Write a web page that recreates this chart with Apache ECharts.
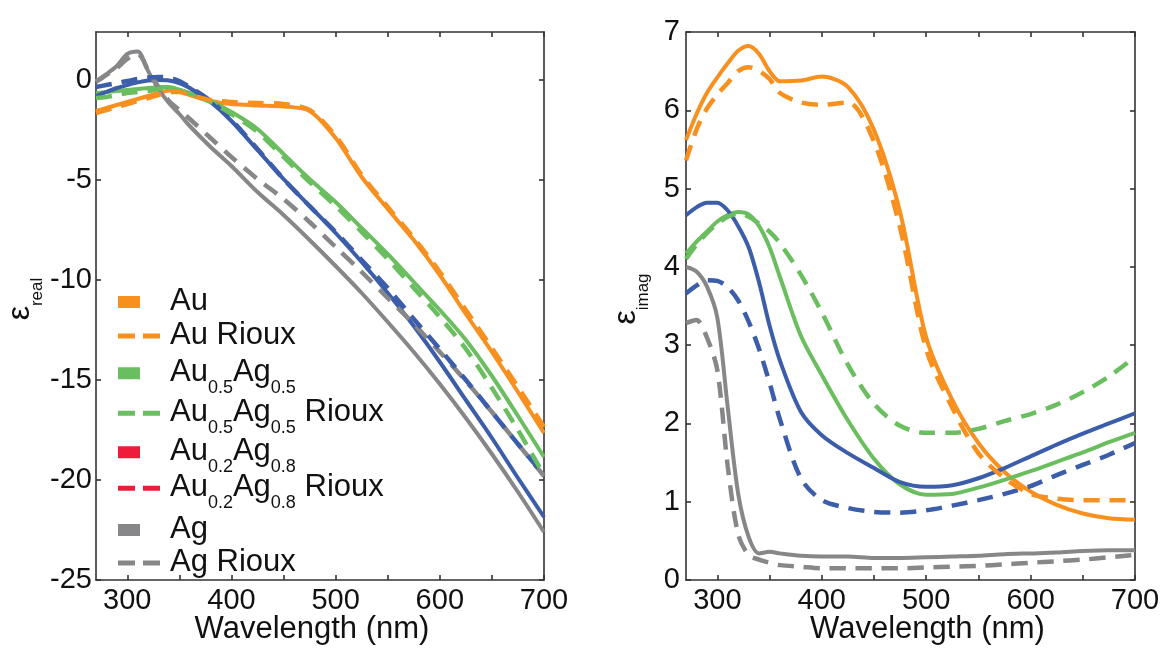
<!DOCTYPE html>
<html>
<head>
<meta charset="utf-8">
<script src="https://cdn.jsdelivr.net/npm/echarts@6/dist/echarts.min.js"></script>
<style>
  html, body { margin: 0; padding: 0; background: #fff; }
  #chart { width: 1164px; height: 650px; }
</style>
</head>
<body>
<div id="chart"></div>
<script>
// wavelength grid (nm), shared by every curve
var wl = [270, 280, 290, 300, 310, 320, 330, 340, 350, 360, 380, 400, 425, 450, 475, 500, 525, 550, 575, 600, 625, 650, 675, 700];

// left panel: eps real
var auReal        = [-1.55, -1.4, -1.25, -1.1, -0.95, -0.8, -0.65, -0.52, -0.55, -0.75, -1.05, -1.2, -1.27, -1.32, -1.55, -2.9, -4.85, -6.45, -8.0, -9.75, -11.7, -13.6, -15.6, -17.65];
var auRiouxReal   = [-1.65, -1.5, -1.35, -1.2, -1.05, -0.9, -0.75, -0.6, -0.6, -0.75, -1.0, -1.1, -1.15, -1.2, -1.5, -2.8, -4.75, -6.35, -7.9, -9.6, -11.5, -13.4, -15.35, -17.35];
var au5Real       = [-0.65, -0.6, -0.55, -0.5, -0.45, -0.4, -0.35, -0.35, -0.5, -0.65, -1.05, -1.6, -2.45, -3.7, -4.95, -6.1, -7.4, -8.7, -10.1, -11.5, -13.0, -14.8, -16.8, -18.85];
var au5RiouxReal  = [-0.9, -0.85, -0.75, -0.65, -0.6, -0.55, -0.45, -0.4, -0.5, -0.7, -1.1, -1.7, -2.6, -3.85, -5.1, -6.3, -7.6, -8.95, -10.4, -11.85, -13.45, -15.4, -17.5, -19.75];
var au2Real       = [-0.8, -0.6, -0.4, -0.25, -0.12, -0.03, 0.0, -0.02, -0.15, -0.4, -1.1, -2.05, -3.5, -4.95, -6.3, -7.65, -9.1, -10.65, -12.3, -14.1, -16.0, -17.9, -19.9, -21.85];
var au2RiouxReal  = [-0.35, -0.25, -0.15, -0.05, 0.05, 0.12, 0.15, 0.12, -0.05, -0.35, -1.05, -2.0, -3.45, -4.95, -6.3, -7.6, -9.0, -10.4, -11.95, -13.45, -15.0, -16.6, -18.2, -19.75];
var agReal        = [-0.05, 0.3, 0.7, 1.3, 1.42, 0.45, -0.45, -1.15, -1.7, -2.3, -3.35, -4.3, -5.6, -6.75, -8.0, -9.3, -10.65, -12.1, -13.6, -15.2, -16.9, -18.7, -20.6, -22.6];
var agRiouxReal   = [-0.1, 0.25, 0.6, 1.05, 1.3, 0.5, -0.35, -1.05, -1.5, -1.95, -2.9, -3.85, -4.95, -5.95, -7.1, -8.35, -9.6, -10.9, -12.2, -13.6, -15.05, -16.6, -18.2, -19.8];

// right panel: eps imag
var auImag        = [5.62, 5.95, 6.22, 6.42, 6.6, 6.76, 6.82, 6.72, 6.5, 6.37, 6.38, 6.43, 6.3, 5.75, 4.7, 3.1, 2.3, 1.75, 1.38, 1.13, 0.96, 0.85, 0.79, 0.77];
var auRiouxImag   = [5.36, 5.75, 6.02, 6.2, 6.35, 6.5, 6.55, 6.5, 6.4, 6.22, 6.1, 6.07, 6.1, 5.6, 4.5, 2.95, 2.2, 1.62, 1.3, 1.1, 1.04, 1.02, 1.02, 1.02];
var au5Imag       = [4.17, 4.32, 4.45, 4.58, 4.66, 4.7, 4.67, 4.52, 4.25, 3.87, 3.12, 2.62, 2.04, 1.55, 1.22, 1.09, 1.1, 1.18, 1.28, 1.39, 1.51, 1.63, 1.76, 1.88];
var au5RiouxImag  = [4.1, 4.28, 4.43, 4.55, 4.64, 4.68, 4.64, 4.55, 4.45, 4.3, 3.9, 3.42, 2.75, 2.25, 1.97, 1.88, 1.88, 1.93, 2.03, 2.12, 2.24, 2.4, 2.6, 2.85];
var au2Imag       = [4.66, 4.76, 4.82, 4.82, 4.72, 4.52, 4.25, 3.8, 3.25, 2.8, 2.15, 1.85, 1.62, 1.43, 1.25, 1.19, 1.21, 1.3, 1.43, 1.58, 1.73, 1.87, 2.0, 2.13];
var au2RiouxImag  = [3.66, 3.76, 3.83, 3.82, 3.74, 3.57, 3.3, 2.95, 2.52, 2.05, 1.3, 1.02, 0.92, 0.87, 0.86, 0.89, 0.95, 1.02, 1.1, 1.2, 1.34, 1.47, 1.6, 1.75];
var agImag        = [4.0, 3.94, 3.75, 3.35, 2.2, 1.1, 0.55, 0.34, 0.36, 0.34, 0.31, 0.3, 0.3, 0.28, 0.28, 0.29, 0.3, 0.31, 0.33, 0.34, 0.35, 0.37, 0.38, 0.38];
var agRiouxImag   = [3.28, 3.32, 3.1, 2.68, 1.45, 0.58, 0.32, 0.26, 0.22, 0.19, 0.17, 0.15, 0.15, 0.15, 0.15, 0.16, 0.17, 0.18, 0.2, 0.22, 0.24, 0.26, 0.29, 0.32];

// tick labels
var xTicks = [300, 350, 400, 450, 500, 550, 600, 650, 700];
var xLabels = [300, 400, 500, 600, 700];

var names = ['Au', 'Au Rioux', 'Au0.5Ag0.5', 'Au0.5Ag0.5 Rioux', 'Au0.2Ag0.8', 'Au0.2Ag0.8 Rioux', 'Ag', 'Ag Rioux'];

var ORANGE = '#F7901E', GREEN = '#6BBE5F', BLUE = '#3B5DAA', GRAY = '#87878A', RED = '#EC1C3A';
var FONT = 'Liberation Sans';

var myChart = echarts.init(document.getElementById('chart'));

function pairs(vals) {
    return wl.map(function (x, i) { return [x, vals[i]]; });
}

function line(name, vals, color, dashed, panel) {
    return {
        name: name,
        type: 'line',
        xAxisIndex: panel * 2,
        yAxisIndex: panel * 2,
        data: pairs(vals),
        showSymbol: false,
        symbol: 'none',
        smooth: 0.3,
        color: color,
        lineStyle: { color: color, width: dashed ? 4.5 : 4, type: dashed ? [16, 10] : 'solid' },
        z: dashed ? 3 : 2
    };
}

// subscripts like Au0.5 -> {m|Au}{s|0.5}
function richName(name) {
    var parts = name.split(/(0\.\d)/);
    return parts.map(function (p) {
        if (p === '') return '';
        return /^0\.\d$/.test(p) ? '{s|' + p + '}' : '{m|' + p + '}';
    }).join('');
}

var axisLineStyle = { color: '#333', width: 1.6 };

function xAxes(grid) {
    return [
        {
            type: 'value', gridIndex: grid, min: 270, max: 700, position: 'bottom',
            axisLine: { show: true, onZero: false, lineStyle: axisLineStyle },
            axisTick: { show: true, inside: true, length: 5, customValues: xTicks, lineStyle: axisLineStyle },
            axisLabel: { customValues: xLabels, fontSize: 29, color: '#111', fontFamily: FONT, margin: 6 },
            splitLine: { show: false },
            name: 'Wavelength (nm)', nameLocation: 'middle', nameGap: 34, nameMoveOverlap: false,
            nameTextStyle: { fontSize: 31, color: '#111', fontFamily: FONT,
                padding: grid === 0 ? [0, 16, 0, 0] : [0, 0, 0, 34] }
        },
        {
            type: 'value', gridIndex: grid, min: 270, max: 700, position: 'top',
            axisLine: { show: true, onZero: false, lineStyle: axisLineStyle },
            axisTick: { show: true, inside: true, length: 5, customValues: xTicks, lineStyle: axisLineStyle },
            axisLabel: { show: false },
            splitLine: { show: false }
        }
    ];
}

function yAxes(grid, min, max, step, sub, gap) {
    var yTicks = [];
    for (var v = min; v <= max + 1e-9; v += step) yTicks.push(v);
    var nameStyle = {
        color: '#111', fontFamily: FONT, padding: [0, 0, 0, 14],
        rich: {
            e: { fontSize: 32, lineHeight: 36, verticalAlign: 'top', fontFamily: FONT, color: '#111' },
            s: { fontSize: 17, lineHeight: 17, verticalAlign: 'top', padding: [24.6, 0, 0, 0], fontFamily: FONT, color: '#111' }
        }
    };
    return [
        {
            type: 'value', gridIndex: grid, min: min, max: max, position: 'left',
            axisLine: { show: true, onZero: false, lineStyle: axisLineStyle },
            axisTick: { show: true, inside: true, length: 5, customValues: yTicks, lineStyle: axisLineStyle },
            axisLabel: { customValues: yTicks, fontSize: 29, color: '#111', fontFamily: FONT, margin: grid === 0 ? 4 : 6 },
            splitLine: { show: false },
            name: '{e|ε}{s|' + sub + '}', nameLocation: 'middle', nameRotate: 90, nameGap: gap,
            nameMoveOverlap: false,
            nameTextStyle: nameStyle
        },
        {
            type: 'value', gridIndex: grid, min: min, max: max, position: 'right',
            axisLine: { show: true, onZero: false, lineStyle: axisLineStyle },
            axisTick: { show: true, inside: true, length: 5, customValues: yTicks, lineStyle: axisLineStyle },
            axisLabel: { show: false },
            splitLine: { show: false }
        }
    ];
}

// legend icons: filled block for measured, two dashes for Rioux
var solidIcon = 'path://M0,0H22V12H0Z M46.99,11.99H47V12H46.99Z';
var dashIcon = 'path://M0,3.5H17V8.5H0Z M25,3.5H42V8.5H25Z M0,0H0.01V0.01H0Z M46.99,11.99H47V12H46.99Z';
var legendColors = [ORANGE, ORANGE, GREEN, GREEN, RED, RED, GRAY, GRAY];
var legendCenters = [302, 336, 377, 417, 456, 492, 530, 563];

var legends = names.map(function (n, i) {
    var hasSub = /0\.\d/.test(n);
    return {
        left: 118,
        top: legendCenters[i] - (hasSub ? 19.75 : 16),
        padding: 0,
        itemWidth: 47,
        itemHeight: 12,
        selectedMode: false,
        itemStyle: { borderWidth: 0 },
        data: [{
            name: n,
            icon: i % 2 ? dashIcon : solidIcon,
            itemStyle: { color: legendColors[i], borderWidth: 0 }
        }],
        formatter: richName,
        textStyle: {
            fontSize: 31, lineHeight: 32, color: '#111', fontFamily: FONT,
            rich: {
                m: { fontSize: 31, lineHeight: 32, verticalAlign: 'top', color: '#111', fontFamily: FONT },
                s: { fontSize: 18, lineHeight: 18, verticalAlign: 'top', padding: [21.5, 0, 0, 0], color: '#111', fontFamily: FONT }
            }
        }
    };
});

var series = [
    // left: solid first, Rioux dashed on top
    line('Au', auReal, ORANGE, false, 0),
    line('Au0.5Ag0.5', au5Real, GREEN, false, 0),
    line('Au0.2Ag0.8', au2Real, BLUE, false, 0),
    line('Ag', agReal, GRAY, false, 0),
    line('Ag Rioux', agRiouxReal, GRAY, true, 0),
    line('Au0.2Ag0.8 Rioux', au2RiouxReal, BLUE, true, 0),
    line('Au0.5Ag0.5 Rioux', au5RiouxReal, GREEN, true, 0),
    line('Au Rioux', auRiouxReal, ORANGE, true, 0),
    // right
    line('Au', auImag, ORANGE, false, 1),
    line('Au0.5Ag0.5', au5Imag, GREEN, false, 1),
    line('Au0.2Ag0.8', au2Imag, BLUE, false, 1),
    line('Ag', agImag, GRAY, false, 1),
    line('Ag Rioux', agRiouxImag, GRAY, true, 1),
    line('Au0.2Ag0.8 Rioux', au2RiouxImag, BLUE, true, 1),
    line('Au0.5Ag0.5 Rioux', au5RiouxImag, GREEN, true, 1),
    line('Au Rioux', auRiouxImag, ORANGE, true, 1)
];

myChart.setOption({
    animation: false,
    backgroundColor: '#fff',
    grid: [
        { left: 96, top: 32, width: 448, height: 548, containLabel: false, outerBoundsMode: 'none' },
        { left: 686, top: 32, width: 449, height: 548, containLabel: false, outerBoundsMode: 'none' }
    ],
    legend: legends,
    xAxis: xAxes(0).concat(xAxes(1)),
    yAxis: yAxes(0, -25, 2.4, 5, 'real', 55.5).concat(yAxes(1, 0, 7, 1, 'imag', 40)),
    series: series
});
</script>
</body>
</html>
